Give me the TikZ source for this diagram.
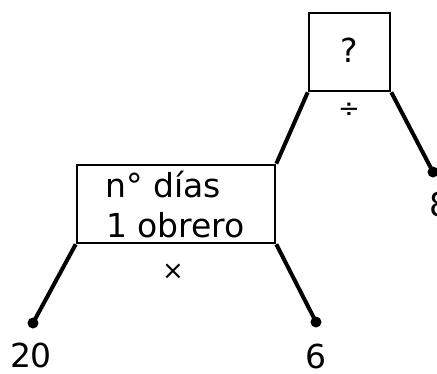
\documentclass[tikz,border=0pt]{standalone}
\usepackage{fontspec}
\setmainfont{DejaVu Sans}
\begin{document}
\begin{tikzpicture}[x=1pt,y=-1pt,
  opbox/.style={draw,line width=2.6pt,inner sep=0pt},
  conn/.style={line width=4pt},
  leaf/.style={circle,fill,inner sep=0pt,minimum size=11pt},
  lbl/.style={inner sep=0pt,font=\fontsize{33}{39}\selectfont},
  oplbl/.style={inner sep=0pt,font=\fontsize{26}{32}\selectfont}]
\useasboundingbox (0,0) rectangle (437,373);
% boxes
\node[opbox,minimum width=81pt,minimum height=78pt] (top) at (349.5,52) {};
\node[lbl] (q) at (349.5,50) {?};
\node[oplbl] (div) at (349,110) {÷};
\node[opbox,minimum width=198pt,minimum height=78pt] (low) at (176,204) {};
\node[lbl,anchor=west] (t1) at (105,185) {n° días};
\node[lbl,anchor=west] (t2) at (106,225) {1 obrero};
\node[oplbl] (mul) at (173,272) {×};
% leaves
\node[leaf] (d8) at (433,172) {};
\node[leaf] (d20) at (33,323) {};
\node[leaf] (d6) at (316,322) {};
\node[lbl] (n8) at (440,204) {8};
\node[lbl] (n20) at (31,355) {20};
\node[lbl] (n6) at (316,356) {6};
% connectors
\draw[conn] (top.south west) -- (low.north east);
\draw[conn] (top.south east) -- (d8.center);
\draw[conn] (low.south west) -- (d20.center);
\draw[conn] (low.south east) -- (d6.center);
\end{tikzpicture}
\end{document}
